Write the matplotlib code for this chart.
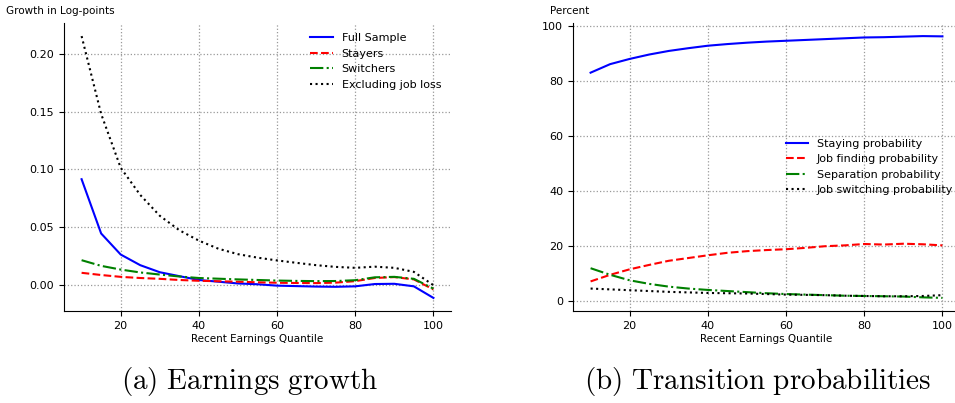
import matplotlib
matplotlib.use("Agg")
import matplotlib.pyplot as plt

plt.rcParams["mathtext.fontset"] = "cm"

# quantiles
q = [10, 15, 20, 25, 30, 35, 40, 45, 50, 55, 60, 65, 70, 75, 80, 85, 90, 95, 100]

# (a) earnings growth
full = [0.0916, 0.0447, 0.0265, 0.0173, 0.0112, 0.0078, 0.0045, 0.0030, 0.0015, 0.0008,
        -0.0004, -0.0008, -0.0012, -0.0014, -0.0010, 0.0010, 0.0012, -0.0010, -0.0110]
stayers = [0.0107, 0.0088, 0.0072, 0.0062, 0.0055, 0.0045, 0.0038, 0.0034, 0.0030, 0.0025,
           0.0021, 0.0019, 0.0018, 0.0022, 0.0035, 0.0062, 0.0070, 0.0050, -0.0037]
switchers = [0.0216, 0.0167, 0.0135, 0.0110, 0.0092, 0.0075, 0.0062, 0.0056, 0.0050, 0.0045,
             0.0040, 0.0037, 0.0035, 0.0036, 0.0043, 0.0068, 0.0072, 0.0055, -0.0030]
excl = [0.2153, 0.148, 0.1015, 0.078, 0.060, 0.0475, 0.0385, 0.0315, 0.0268, 0.0238,
        0.0214, 0.0193, 0.0173, 0.0158, 0.0150, 0.0160, 0.0150, 0.0115, 0.0]

# (b) transition probabilities
staying = [83.2, 86.3, 88.2, 89.8, 91.1, 92.1, 93.0, 93.6, 94.1, 94.5, 94.8, 95.1, 95.4, 95.7,
           96.0, 96.1, 96.3, 96.5, 96.4]
finding = [7.3, 9.7, 11.7, 13.3, 14.8, 15.8, 16.8, 17.7, 18.3, 18.7, 19.0, 19.5, 20.1, 20.4,
           20.9, 20.7, 21.0, 20.8, 20.4]
separation = [12.1, 9.7, 7.7, 6.4, 5.4, 4.7, 4.2, 3.8, 3.4, 3.0, 2.7, 2.5, 2.3, 2.1,
              2.0, 1.9, 1.8, 1.5, 1.3]
switching = [4.7, 4.4, 4.1, 3.8, 3.5, 3.3, 3.1, 3.0, 2.9, 2.7, 2.5, 2.4, 2.3, 2.1,
             2.0, 1.9, 1.9, 2.0, 2.3]

W, H = 955, 403
fig = plt.figure(figsize=(W / 100, H / 100), dpi=100)
ax1 = fig.add_axes([64 / W, 92 / H, 387 / W, 288 / H])
ax2 = fig.add_axes([573 / W, 92 / H, 387 / W, 288 / H])

ax1.plot(q, full, color="blue", linestyle="-", label="Full Sample")
ax1.plot(q, stayers, color="red", linestyle="--", label="Stayers")
ax1.plot(q, switchers, color="green", linestyle="-.", label="Switchers")
ax1.plot(q, excl, color="black", linestyle=":", label="Excluding job loss")
ax1.set_yticks([0.0, 0.05, 0.10, 0.15, 0.20])
ax1.legend(loc="upper right", frameon=False, fontsize=8)
ax1.text(-0.15, 1.03, "Growth in Log-points", transform=ax1.transAxes, fontsize=7.5)

ax2.plot(q, staying, color="blue", linestyle="-", label="Staying probability")
ax2.plot(q, finding, color="red", linestyle="--", label="Job finding probability")
ax2.plot(q, separation, color="green", linestyle="-.", label="Separation probability")
ax2.plot(q, switching, color="black", linestyle=":", label="Job switching probability")
ax2.set_yticks([0, 20, 40, 60, 80, 100])
ax2.legend(loc="center right", frameon=False, fontsize=8, borderaxespad=0.2)
ax2.text(-0.06, 1.03, "Percent", transform=ax2.transAxes, fontsize=7.5)

for ax in (ax1, ax2):
    ax.spines["top"].set_visible(False)
    ax.spines["right"].set_visible(False)
    ax.grid(True, color="#999999", linestyle=":", linewidth=0.9)
    ax.set_axisbelow(True)
    ax.set_xticks([20, 40, 60, 80, 100])
    ax.tick_params(labelsize=8)
    ax.set_xlabel("Recent Earnings Quantile", fontsize=7.5, labelpad=2)

fig.text(250 / W, 1 - 381 / H, r"$\mathrm{(a)\ Earnings\ growth}$", fontsize=21,
         ha="center", va="center")
fig.text(758 / W, 1 - 381 / H, r"$\mathrm{(b)\ Transition\ probabilities}$", fontsize=21,
         ha="center", va="center")

fig.savefig("out.png", dpi=100)
